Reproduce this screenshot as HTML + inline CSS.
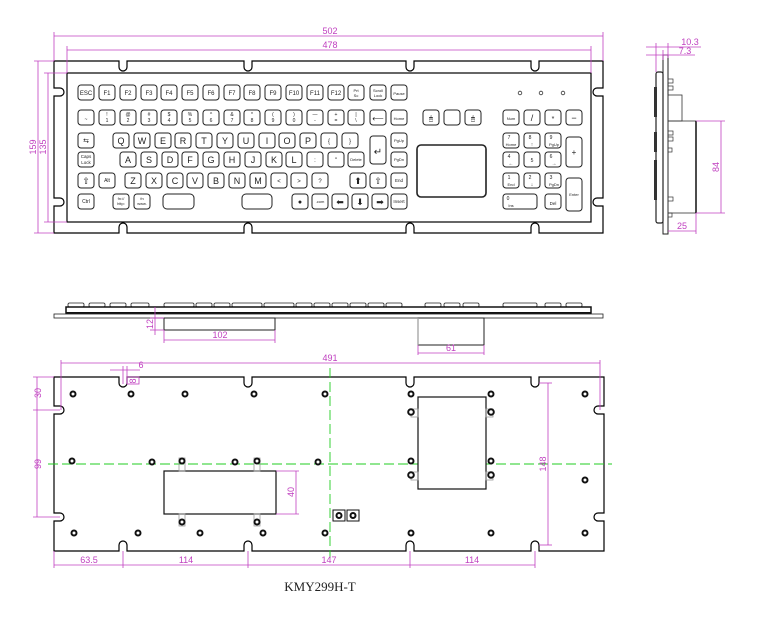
<!DOCTYPE html>
<html><head><meta charset="utf-8"><style>
html,body{margin:0;padding:0;background:#fff;}
svg{display:block;}
.k rect{fill:#fff;stroke:#222;stroke-width:1;}
.k text{font-family:"Liberation Sans",sans-serif;fill:#222;text-anchor:middle;}
.d{stroke:#c040c0;stroke-width:0.8;fill:none;}
.dt{font-family:"Liberation Sans",sans-serif;fill:#c040c0;font-size:9px;text-anchor:middle;}
.o{fill:none;stroke:#000;stroke-width:1.2;}
.h{fill:#fff;stroke:#111;stroke-width:2;}
.g{stroke:#2c2;stroke-width:0.9;stroke-dasharray:10 4;fill:none;}
</style></head><body>
<svg width="763" height="620" viewBox="0 0 763 620" xmlns="http://www.w3.org/2000/svg">
<!-- TOP VIEW -->
<path class="o" d="M54,61 H119 v6 a4,4 0 0 0 8,0 v-6 H244 v6 a4,4 0 0 0 8,0 v-6 H406 v6 a4,4 0 0 0 8,0 v-6 H531 v6 a4,4 0 0 0 8,0 v-6 H603 V88 h-6 a4,4 0 0 0 0,8 h6 V198 h-6 a4,4 0 0 0 0,8 h6 V233 H539 v-6 a4,4 0 0 0 -8,0 v6 H414 v-6 a4,4 0 0 0 -8,0 v6 H252 v-6 a4,4 0 0 0 -8,0 v6 H127 v-6 a4,4 0 0 0 -8,0 v6 H54 V206 h6 a4,4 0 0 0 0,-8 h-6 V96 h6 a4,4 0 0 0 0,-8 h-6 Z"/>
<rect class="o" x="67" y="73" width="524" height="149"/>
<!-- dims top -->
<line class="d" x1="54" y1="36" x2="603" y2="36"/><line class="d" x1="54" y1="32" x2="54" y2="61"/><line class="d" x1="603" y1="32" x2="603" y2="61"/>
<text class="dt" x="330" y="34">502</text>
<line class="d" x1="67" y1="50" x2="591" y2="50"/><line class="d" x1="67" y1="46" x2="67" y2="73"/><line class="d" x1="591" y1="46" x2="591" y2="73"/>
<text class="dt" x="330" y="48">478</text>
<line class="d" x1="38" y1="61" x2="38" y2="233"/><line class="d" x1="34" y1="61" x2="54" y2="61"/><line class="d" x1="34" y1="233" x2="54" y2="233"/>
<text class="dt" transform="translate(36,147) rotate(-90)">159</text>
<line class="d" x1="48" y1="73" x2="48" y2="222"/><line class="d" x1="44" y1="73" x2="67" y2="73"/><line class="d" x1="44" y1="222" x2="67" y2="222"/>
<text class="dt" transform="translate(46,147) rotate(-90)">135</text>
<!-- keys -->
<g class="k">
<!-- row1 -->
<g font-size="6">
<rect x="78" y="85" width="16" height="15" rx="3"/><text x="86" y="95">ESC</text>
<rect x="99" y="85" width="16" height="15" rx="3"/><text x="107" y="95">F1</text>
<rect x="120" y="85" width="16" height="15" rx="3"/><text x="128" y="95">F2</text>
<rect x="141" y="85" width="16" height="15" rx="3"/><text x="149" y="95">F3</text>
<rect x="161" y="85" width="16" height="15" rx="3"/><text x="169" y="95">F4</text>
<rect x="182" y="85" width="16" height="15" rx="3"/><text x="190" y="95">F5</text>
<rect x="203" y="85" width="16" height="15" rx="3"/><text x="211" y="95">F6</text>
<rect x="224" y="85" width="16" height="15" rx="3"/><text x="232" y="95">F7</text>
<rect x="244" y="85" width="16" height="15" rx="3"/><text x="252" y="95">F8</text>
<rect x="265" y="85" width="16" height="15" rx="3"/><text x="273" y="95">F9</text>
<rect x="286" y="85" width="16" height="15" rx="3"/><text x="294" y="95">F10</text>
<rect x="307" y="85" width="16" height="15" rx="3"/><text x="315" y="95">F11</text>
<rect x="328" y="85" width="16" height="15" rx="3"/><text x="336" y="95">F12</text>
</g>
<g font-size="4">
<rect x="348" y="85" width="16" height="15" rx="3"/><text x="356" y="92">Prt</text><text x="356" y="97">Sc</text>
<rect x="370" y="85" width="16" height="15" rx="3"/><text x="378" y="92">Scroll</text><text x="378" y="97">Lock</text>
<rect x="391" y="85" width="16" height="15" rx="3"/><text x="399" y="95">Pause</text>
</g>
<!-- row2 -->
<g font-size="5">
<rect x="78" y="110" width="16" height="15" rx="3"/><text x="86" y="121">~</text>
<rect x="99" y="110" width="16" height="15" rx="3"/><text x="107" y="116">!</text><text x="107" y="122">1</text>
<rect x="120" y="110" width="16" height="15" rx="3"/><text x="128" y="116">@</text><text x="128" y="122">2</text>
<rect x="141" y="110" width="16" height="15" rx="3"/><text x="149" y="116">#</text><text x="149" y="122">3</text>
<rect x="161" y="110" width="16" height="15" rx="3"/><text x="169" y="116">$</text><text x="169" y="122">4</text>
<rect x="182" y="110" width="16" height="15" rx="3"/><text x="190" y="116">%</text><text x="190" y="122">5</text>
<rect x="203" y="110" width="16" height="15" rx="3"/><text x="211" y="116">^</text><text x="211" y="122">6</text>
<rect x="224" y="110" width="16" height="15" rx="3"/><text x="232" y="116">&amp;</text><text x="232" y="122">7</text>
<rect x="244" y="110" width="16" height="15" rx="3"/><text x="252" y="116">*</text><text x="252" y="122">8</text>
<rect x="265" y="110" width="16" height="15" rx="3"/><text x="273" y="116">(</text><text x="273" y="122">9</text>
<rect x="286" y="110" width="16" height="15" rx="3"/><text x="294" y="116">)</text><text x="294" y="122">0</text>
<rect x="307" y="110" width="16" height="15" rx="3"/><text x="315" y="116">—</text><text x="315" y="122">-</text>
<rect x="328" y="110" width="16" height="15" rx="3"/><text x="336" y="116">+</text><text x="336" y="122">=</text>
<rect x="348" y="110" width="16" height="15" rx="3"/><text x="356" y="116">|</text><text x="356" y="122">\</text>
<rect x="370" y="110" width="16" height="15" rx="3"/><text x="378" y="121" font-size="8">⟵</text>
<rect x="391" y="110" width="16" height="15" rx="3"/><text x="399" y="120" font-size="4">Home</text>
</g>
<!-- row3 -->
<g font-size="9">
<rect x="78" y="133" width="16" height="15" rx="3"/><text x="86" y="143" font-size="7">⇆</text>
<rect x="113" y="133" width="16" height="15" rx="3"/><text x="121" y="144">Q</text>
<rect x="134" y="133" width="16" height="15" rx="3"/><text x="142" y="144">W</text>
<rect x="155" y="133" width="16" height="15" rx="3"/><text x="163" y="144">E</text>
<rect x="175" y="133" width="16" height="15" rx="3"/><text x="183" y="144">R</text>
<rect x="196" y="133" width="16" height="15" rx="3"/><text x="204" y="144">T</text>
<rect x="217" y="133" width="16" height="15" rx="3"/><text x="225" y="144">Y</text>
<rect x="238" y="133" width="16" height="15" rx="3"/><text x="246" y="144">U</text>
<rect x="259" y="133" width="16" height="15" rx="3"/><text x="267" y="144">I</text>
<rect x="279" y="133" width="16" height="15" rx="3"/><text x="287" y="144">O</text>
<rect x="300" y="133" width="16" height="15" rx="3"/><text x="308" y="144">P</text>
<rect x="321" y="133" width="16" height="15" rx="3"/><text x="329" y="143" font-size="6">{</text>
<rect x="342" y="133" width="16" height="15" rx="3"/><text x="350" y="143" font-size="6">}</text>
<rect x="370" y="136" width="16" height="28" rx="3"/><text x="378" y="155" font-size="10">↵</text>
<rect x="391" y="133" width="16" height="15" rx="3"/><text x="399" y="142" font-size="4">PgUp</text>
</g>
<!-- row4 -->
<g font-size="9">
<rect x="78" y="152" width="16" height="15" rx="3"/><text x="86" y="158" font-size="4.5">Caps</text><text x="86" y="164" font-size="4.5">Lock</text>
<rect x="120" y="152" width="16" height="15" rx="3"/><text x="128" y="163">A</text>
<rect x="141" y="152" width="16" height="15" rx="3"/><text x="149" y="163">S</text>
<rect x="162" y="152" width="16" height="15" rx="3"/><text x="170" y="163">D</text>
<rect x="182" y="152" width="16" height="15" rx="3"/><text x="190" y="163">F</text>
<rect x="203" y="152" width="16" height="15" rx="3"/><text x="211" y="163">G</text>
<rect x="224" y="152" width="16" height="15" rx="3"/><text x="232" y="163">H</text>
<rect x="245" y="152" width="16" height="15" rx="3"/><text x="253" y="163">J</text>
<rect x="266" y="152" width="16" height="15" rx="3"/><text x="274" y="163">K</text>
<rect x="286" y="152" width="16" height="15" rx="3"/><text x="294" y="163">L</text>
<rect x="307" y="152" width="16" height="15" rx="3"/><text x="315" y="162" font-size="6">:</text>
<rect x="328" y="152" width="16" height="15" rx="3"/><text x="336" y="162" font-size="6">"</text>
<rect x="348" y="152" width="16" height="15" rx="3"/><text x="356" y="161" font-size="4">Delete</text>
<rect x="391" y="152" width="16" height="15" rx="3"/><text x="399" y="161" font-size="4">PgDn</text>
</g>
<!-- row5 -->
<g font-size="9">
<rect x="78" y="173" width="16" height="15" rx="3"/><text x="86" y="184">⇧</text>
<rect x="99" y="173" width="16" height="15" rx="3"/><text x="107" y="182" font-size="5">Alt</text>
<rect x="125" y="173" width="16" height="15" rx="3"/><text x="133" y="184">Z</text>
<rect x="146" y="173" width="16" height="15" rx="3"/><text x="154" y="184">X</text>
<rect x="167" y="173" width="16" height="15" rx="3"/><text x="175" y="184">C</text>
<rect x="187" y="173" width="16" height="15" rx="3"/><text x="195" y="184">V</text>
<rect x="208" y="173" width="16" height="15" rx="3"/><text x="216" y="184">B</text>
<rect x="229" y="173" width="16" height="15" rx="3"/><text x="237" y="184">N</text>
<rect x="250" y="173" width="16" height="15" rx="3"/><text x="258" y="184">M</text>
<rect x="271" y="173" width="16" height="15" rx="3"/><text x="279" y="183" font-size="6">&lt;</text>
<rect x="291" y="173" width="16" height="15" rx="3"/><text x="299" y="183" font-size="6">&gt;</text>
<rect x="312" y="173" width="16" height="15" rx="3"/><text x="320" y="183" font-size="6">?</text>
<rect x="350" y="173" width="16" height="15" rx="3"/><text x="358" y="184">⬆</text>
<rect x="370" y="173" width="16" height="15" rx="3"/><text x="378" y="184">⇧</text>
<rect x="391" y="173" width="16" height="15" rx="3"/><text x="399" y="182" font-size="4.5">End</text>
</g>
<!-- row6 -->
<g font-size="9">
<rect x="78" y="194" width="16" height="15" rx="3"/><text x="86" y="203" font-size="5">Ctrl</text>
<rect x="113" y="194" width="16" height="15" rx="3"/><text x="121" y="200" font-size="4">fn://</text><text x="121" y="205" font-size="4">http:</text>
<rect x="134" y="194" width="16" height="15" rx="3"/><text x="142" y="200" font-size="4">fn</text><text x="142" y="205" font-size="4">www.</text>
<rect x="163" y="194" width="31" height="15" rx="4"/>
<rect x="242" y="194" width="30" height="15" rx="4"/>
<rect x="292" y="194" width="16" height="15" rx="3"/><text x="300" y="204" font-size="7">●</text>
<rect x="312" y="194" width="16" height="15" rx="3"/><text x="320" y="203" font-size="4">.com</text>
<rect x="332" y="194" width="16" height="15" rx="3"/><text x="340" y="205">⬅</text>
<rect x="352" y="194" width="16" height="15" rx="3"/><text x="360" y="205">⬇</text>
<rect x="372" y="194" width="16" height="15" rx="3"/><text x="380" y="205">➡</text>
<rect x="391" y="194" width="16" height="15" rx="3"/><text x="399" y="203" font-size="4.5">Insert</text>
</g>
<!-- mouse keys -->
<rect x="423" y="110" width="16" height="15" rx="3"/><text x="431" y="121" font-size="7">🖱</text>
<rect x="444" y="110" width="16" height="15" rx="3"/>
<rect x="465" y="110" width="16" height="15" rx="3"/><text x="473" y="121" font-size="7">🖱</text>
<rect x="417" y="145" width="69" height="52" rx="4" style="stroke-width:1.6"/>
<!-- numpad -->
<g font-size="5">
<rect x="503" y="110" width="16" height="15" rx="3"/><text x="511" y="120" font-size="4">Num</text>
<rect x="524" y="110" width="16" height="15" rx="3"/><text x="532" y="121" font-size="9">/</text>
<rect x="545" y="110" width="16" height="15" rx="3"/><text x="553" y="121" font-size="7">*</text>
<rect x="566" y="110" width="16" height="15" rx="3"/><text x="574" y="121" font-size="9">−</text>
<rect x="503" y="133" width="16" height="15" rx="3"/><text x="509" y="139">7</text><text x="511" y="146" font-size="4">Home</text>
<rect x="524" y="133" width="16" height="15" rx="3"/><text x="530" y="139">8</text><text x="532" y="146">↑</text>
<rect x="545" y="133" width="16" height="15" rx="3"/><text x="551" y="139">9</text><text x="554" y="146" font-size="4">PgUp</text>
<rect x="566" y="137" width="16" height="30" rx="3"/><text x="574" y="155" font-size="8">+</text>
<rect x="503" y="152" width="16" height="15" rx="3"/><text x="509" y="158">4</text><text x="511" y="165">←</text>
<rect x="524" y="152" width="16" height="15" rx="3"/><text x="532" y="162">5</text>
<rect x="545" y="152" width="16" height="15" rx="3"/><text x="551" y="158">6</text><text x="554" y="165">→</text>
<rect x="503" y="173" width="16" height="15" rx="3"/><text x="509" y="179">1</text><text x="511" y="186" font-size="4">End</text>
<rect x="524" y="173" width="16" height="15" rx="3"/><text x="530" y="179">2</text><text x="532" y="186">↓</text>
<rect x="545" y="173" width="16" height="15" rx="3"/><text x="551" y="179">3</text><text x="554" y="186" font-size="4">PgDn</text>
<rect x="566" y="178" width="16" height="33" rx="3"/><text x="574" y="196" font-size="4">Enter</text>
<rect x="503" y="194" width="34" height="15" rx="3"/><text x="508" y="200">0</text><text x="511" y="207" font-size="4">Ins</text>
<rect x="545" y="194" width="16" height="15" rx="3"/><text x="553" y="205" font-size="4.5">Del</text>
</g>
</g>
<circle cx="520" cy="93" r="1.8" fill="none" stroke="#333" stroke-width="0.8"/>
<circle cx="541" cy="93" r="1.8" fill="none" stroke="#333" stroke-width="0.8"/>
<circle cx="563" cy="93" r="1.8" fill="none" stroke="#333" stroke-width="0.8"/>

<!-- SIDE VIEW -->
<rect x="663" y="55" width="5" height="179" fill="#fff" stroke="#222" stroke-width="1"/>
<rect x="656" y="72" width="7" height="151" rx="2" fill="#fff" stroke="#222" stroke-width="1.2"/>
<rect x="654" y="87" width="3" height="30" fill="#333"/>
<rect x="654" y="132" width="3" height="20" fill="#333"/>
<rect x="654" y="160" width="3" height="40" fill="#333"/>
<rect x="668" y="95" width="14" height="26" fill="none" stroke="#333" stroke-width="0.8"/>
<rect x="668" y="121" width="28" height="92" fill="none" stroke="#333" stroke-width="0.8"/>
<line x1="696" y1="121" x2="696" y2="213" stroke="#000" stroke-width="1.4"/>
<rect x="668" y="79" width="5" height="4" fill="none" stroke="#333" stroke-width="0.7"/>
<rect x="668" y="86" width="5" height="4" fill="none" stroke="#333" stroke-width="0.7"/>
<rect x="668" y="131" width="5" height="4" fill="none" stroke="#333" stroke-width="0.7"/>
<rect x="668" y="137" width="5" height="4" fill="none" stroke="#333" stroke-width="0.7"/>
<rect x="668" y="148" width="4" height="4" fill="none" stroke="#333" stroke-width="0.7"/>
<rect x="668" y="197" width="5" height="4" fill="none" stroke="#333" stroke-width="0.7"/>
<rect x="668" y="213" width="4" height="4" fill="none" stroke="#333" stroke-width="0.7"/>
<line class="d" x1="646" y1="47" x2="701" y2="47"/><line class="d" x1="646" y1="55" x2="695" y2="55"/>
<line class="d" x1="656" y1="43" x2="656" y2="72"/><line class="d" x1="663" y1="50" x2="663" y2="60"/><line class="d" x1="668" y1="43" x2="668" y2="58"/>
<text class="dt" x="690" y="45">10.3</text><text class="dt" x="685" y="54">7.3</text>
<line class="d" x1="721" y1="121" x2="721" y2="213"/><line class="d" x1="696" y1="121" x2="725" y2="121"/><line class="d" x1="696" y1="213" x2="725" y2="213"/>
<text class="dt" transform="translate(719,167) rotate(-90)">84</text>
<line class="d" x1="668" y1="231" x2="696" y2="231"/><line class="d" x1="696" y1="213" x2="696" y2="234"/>
<text class="dt" x="682" y="229">25</text>

<!-- FRONT VIEW -->
<g fill="#fff" stroke="#222" stroke-width="0.8">
<rect x="68" y="303" width="16" height="4" rx="1.5"/><rect x="89" y="303" width="16" height="4" rx="1.5"/><rect x="110" y="303" width="16" height="4" rx="1.5"/><rect x="131" y="303" width="18" height="4" rx="1.5"/>
<rect x="164" y="303" width="30" height="4" rx="1.5"/><rect x="196" y="303" width="16" height="4" rx="1.5"/><rect x="214" y="303" width="16" height="4" rx="1.5"/><rect x="232" y="303" width="30" height="4" rx="1.5"/><rect x="264" y="303" width="30" height="4" rx="1.5"/><rect x="296" y="303" width="16" height="4" rx="1.5"/><rect x="314" y="303" width="16" height="4" rx="1.5"/><rect x="332" y="303" width="16" height="4" rx="1.5"/><rect x="350" y="303" width="16" height="4" rx="1.5"/><rect x="368" y="303" width="16" height="4" rx="1.5"/><rect x="386" y="303" width="16" height="4" rx="1.5"/>
<rect x="425" y="303" width="16" height="4" rx="1.5"/><rect x="444" y="303" width="16" height="4" rx="1.5"/><rect x="463" y="303" width="16" height="4" rx="1.5"/>
<rect x="503" y="303" width="34" height="4" rx="1.5"/><rect x="545" y="303" width="16" height="4" rx="1.5"/><rect x="566" y="303" width="16" height="4" rx="1.5"/>
</g>
<rect x="66" y="307" width="525" height="6" fill="#fff" stroke="#111" stroke-width="1.5"/>
<line x1="66" y1="313" x2="591" y2="313" stroke="#111" stroke-width="2"/>
<rect x="54" y="314" width="549" height="4" fill="#fff" stroke="#222" stroke-width="0.8"/>
<rect x="164" y="318" width="111" height="12" fill="#fff" stroke="#222" stroke-width="1"/>
<rect x="418" y="318" width="66" height="27" fill="#fff" stroke="#222" stroke-width="1"/>
<line x1="418" y1="318" x2="418" y2="345" stroke="#999" stroke-width="1.2"/>
<line class="d" x1="164" y1="340" x2="275" y2="340"/><line class="d" x1="164" y1="330" x2="164" y2="343"/><line class="d" x1="275" y1="330" x2="275" y2="343"/>
<text class="dt" x="220" y="338">102</text>
<line class="d" x1="418" y1="353" x2="484" y2="353"/><line class="d" x1="418" y1="345" x2="418" y2="355"/><line class="d" x1="484" y1="345" x2="484" y2="355"/>
<text class="dt" x="451" y="351">61</text>
<line class="d" x1="155" y1="307" x2="155" y2="335"/><line class="d" x1="150" y1="318" x2="164" y2="318"/><line class="d" x1="150" y1="330" x2="164" y2="330"/>
<text class="dt" transform="translate(153,324) rotate(-90)">12</text>

<!-- BOTTOM VIEW -->
<path class="o" d="M54,377 H119 v6 a4,4 0 0 0 8,0 v-6 H244 v6 a4,4 0 0 0 8,0 v-6 H406 v6 a4,4 0 0 0 8,0 v-6 H531 v6 a4,4 0 0 0 8,0 v-6 H604 V406 h-6 a4,4 0 0 0 0,8 h6 V513 h-6 a4,4 0 0 0 0,8 h6 V551 H539 v-6 a4,4 0 0 0 -8,0 v6 H414 v-6 a4,4 0 0 0 -8,0 v6 H252 v-6 a4,4 0 0 0 -8,0 v6 H127 v-6 a4,4 0 0 0 -8,0 v6 H54 V521 h6 a4,4 0 0 0 0,-8 h-6 V414 h6 a4,4 0 0 0 0,-8 h-6 Z"/>
<line class="g" x1="48" y1="464" x2="612" y2="464"/>
<line class="g" x1="330" y1="368" x2="330" y2="558"/>
<rect x="164" y="471" width="112" height="43" fill="#fff" stroke="#111" stroke-width="1.2"/>
<rect x="418" y="397" width="68" height="92" fill="#fff" stroke="#111" stroke-width="1.2"/>
<g fill="none" stroke="#999" stroke-width="0.8">
<rect x="179" y="458" width="6" height="13"/><rect x="254" y="458" width="6" height="13"/>
<rect x="179" y="514" width="6" height="12"/><rect x="254" y="514" width="6" height="12"/>
<rect x="411" y="409" width="7" height="8"/><rect x="486" y="409" width="7" height="8"/>
<rect x="411" y="472" width="7" height="8"/><rect x="486" y="472" width="7" height="8"/>
</g>
<g class="h">
<circle cx="73" cy="394" r="2.5"/><circle cx="131" cy="394" r="2.5"/><circle cx="185" cy="394" r="2.5"/><circle cx="254" cy="394" r="2.5"/><circle cx="325" cy="394" r="2.5"/><circle cx="411" cy="394" r="2.5"/><circle cx="491" cy="394" r="2.5"/><circle cx="585" cy="394" r="2.5"/>
<circle cx="72" cy="461" r="2.5"/><circle cx="152" cy="462" r="2.5"/><circle cx="182" cy="461" r="2.5"/><circle cx="235" cy="462" r="2.5"/><circle cx="257" cy="461" r="2.5"/><circle cx="318" cy="462" r="2.5"/>
<circle cx="411" cy="461" r="2.5"/><circle cx="491" cy="461" r="2.5"/><circle cx="411" cy="412" r="2.8"/><circle cx="491" cy="412" r="2.8"/><circle cx="411" cy="475" r="2.8"/><circle cx="491" cy="475" r="2.8"/><circle cx="585" cy="480" r="2.5"/>
<circle cx="182" cy="522" r="2.5"/><circle cx="257" cy="522" r="2.5"/>
<circle cx="74" cy="533" r="2.5"/><circle cx="138" cy="533" r="2.5"/><circle cx="200" cy="533" r="2.5"/><circle cx="263" cy="533" r="2.5"/><circle cx="325" cy="533" r="2.5"/><circle cx="411" cy="533" r="2.5"/><circle cx="491" cy="533" r="2.5"/><circle cx="585" cy="533" r="2.5"/>
</g>
<rect x="333" y="510" width="12" height="11" fill="#fff" stroke="#111" stroke-width="1"/><rect x="347" y="510" width="12" height="11" fill="#fff" stroke="#111" stroke-width="1"/>
<circle cx="339" cy="515.5" r="2.5" class="h"/><circle cx="353" cy="515.5" r="2.5" class="h"/>
<!-- bottom dims -->
<line class="d" x1="61" y1="363" x2="600" y2="363"/><line class="d" x1="61" y1="360" x2="61" y2="410"/><line class="d" x1="600" y1="360" x2="600" y2="410"/>
<text class="dt" x="330" y="361">491</text>
<line class="d" x1="37" y1="377" x2="37" y2="517"/><line class="d" x1="33" y1="377" x2="54" y2="377"/><line class="d" x1="33" y1="410" x2="60" y2="410"/><line class="d" x1="33" y1="517" x2="60" y2="517"/>
<text class="dt" transform="translate(41,393) rotate(-90)">30</text>
<text class="dt" transform="translate(41,464) rotate(-90)">99</text>
<line class="d" x1="110" y1="370" x2="140" y2="370"/><line class="d" x1="123" y1="366" x2="123" y2="384"/><line class="d" x1="127" y1="366" x2="127" y2="384"/>
<rect x="127" y="377" width="12" height="7" class="d"/>
<text class="dt" x="141" y="368" font-size="8">6</text><text class="dt" transform="translate(136,381) rotate(-90)" font-size="7">8</text>
<line class="d" x1="296" y1="471" x2="296" y2="514"/><line class="d" x1="276" y1="471" x2="299" y2="471"/><line class="d" x1="276" y1="514" x2="299" y2="514"/>
<text class="dt" transform="translate(294,492) rotate(-90)">40</text>
<line class="d" x1="548" y1="383" x2="548" y2="545"/><line class="d" x1="539" y1="383" x2="552" y2="383"/><line class="d" x1="539" y1="545" x2="552" y2="545"/>
<text class="dt" transform="translate(546,464) rotate(-90)">148</text>
<line class="d" x1="54" y1="565" x2="535" y2="565"/>
<line class="d" x1="54" y1="551" x2="54" y2="568"/><line class="d" x1="123" y1="551" x2="123" y2="568"/><line class="d" x1="248" y1="551" x2="248" y2="568"/><line class="d" x1="410" y1="551" x2="410" y2="568"/><line class="d" x1="535" y1="551" x2="535" y2="568"/>
<text class="dt" x="89" y="563">63.5</text><text class="dt" x="186" y="563">114</text><text class="dt" x="329" y="563">147</text><text class="dt" x="472" y="563">114</text>
<text x="320" y="591" font-family="'Liberation Serif',serif" font-size="13" text-anchor="middle" fill="#222">KMY299H-T</text>
</svg>
</body></html>
